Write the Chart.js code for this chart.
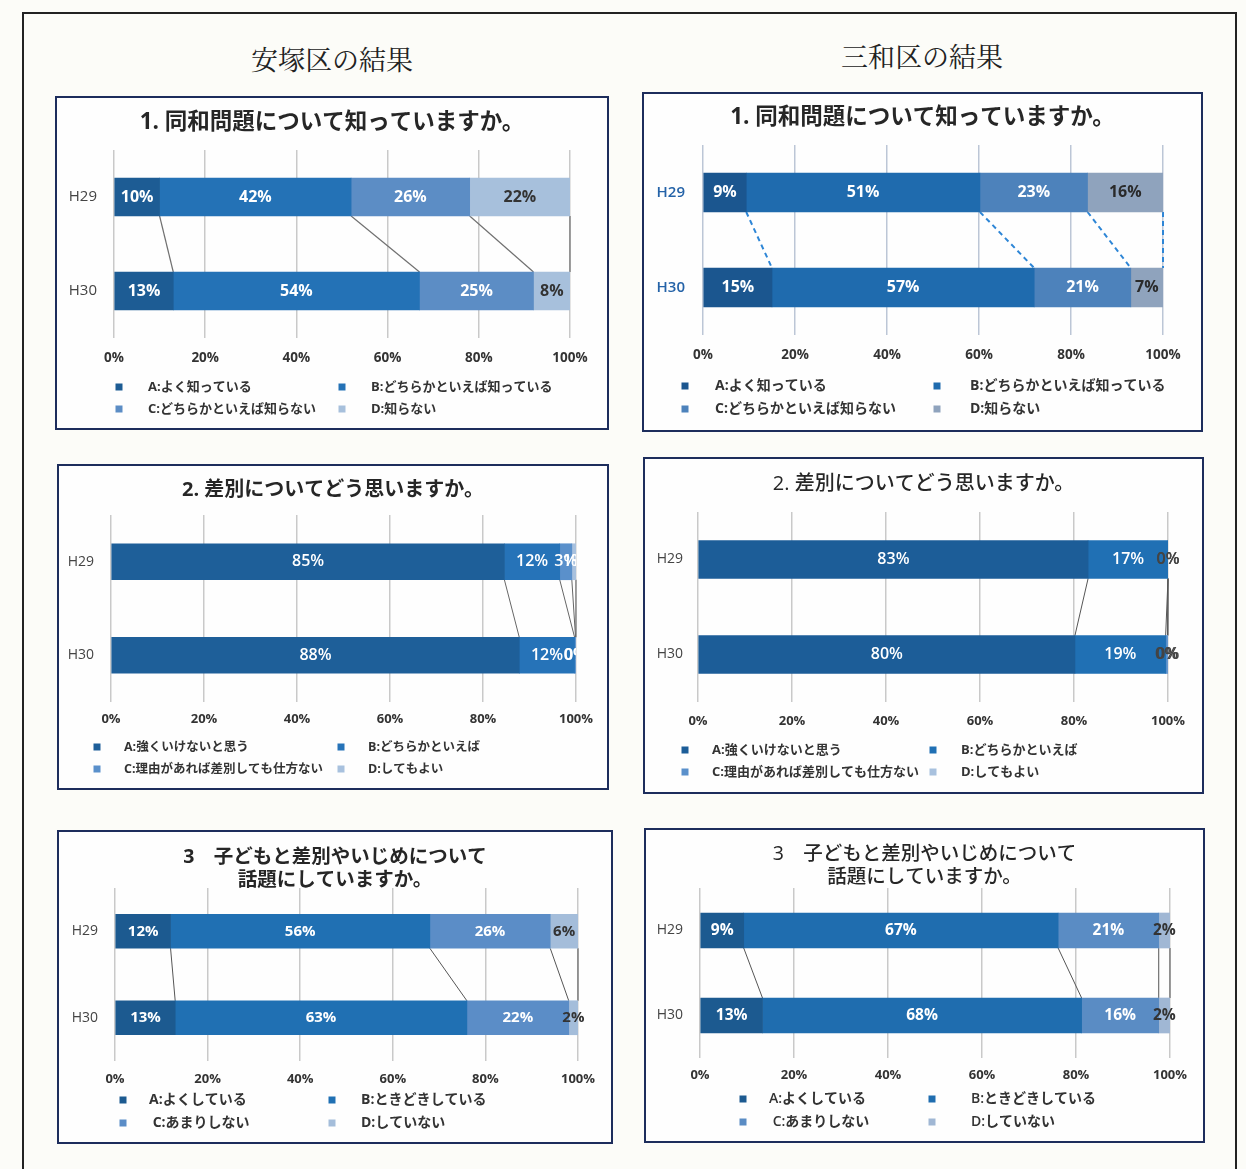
<!DOCTYPE html>
<html lang="ja">
<head>
<meta charset="UTF-8">
<title>安塚区・三和区の結果</title>
<script src="https://cdn.jsdelivr.net/npm/chart.js@4.4.1/dist/chart.umd.min.js"></script>
<style>
  body { margin: 0; background: #fcfcf8; }
  #page { position: relative; width: 1246px; height: 1169px; overflow: hidden; }
  .frame { position: absolute; left: 22px; top: 12px; width: 1215px; height: 1200px; border: 2px solid #222; box-sizing: border-box; }
  .heading { position: absolute; transform: translate(-50%, -50%); white-space: nowrap;
             font-family: "Noto Serif CJK JP", "Noto Sans CJK JP", serif; font-size: 27px; color: #222; }
  .panel { position: absolute; box-sizing: border-box; border: 2px solid #1d2d5c; background: #fefefe; }
  .panel canvas { position: absolute; left: 0; top: 0; }
</style>
</head>
<body>
<div id="page">
  <div class="frame"></div>
  <div class="heading" style="left:332px; top:58px;">安塚区の結果</div>
  <div class="heading" style="left:922px; top:55px;">三和区の結果</div>
</div>

<script>
  const FONT = '"Open Sans", "Noto Sans CJK JP", sans-serif';

  // 共通
  const years = ['H29', 'H30'];
  const tickValues = [0, 20, 40, 60, 80, 100];

  // 設問と回答
  const q1Title = ['1. 同和問題について知っていますか。'];
  const q1Legend = ['A:よく知っている', 'B:どちらかといえば知っている', 'C:どちらかといえば知らない', 'D:知らない'];
  const q2Title = ['2. 差別についてどう思いますか。'];
  const q2Legend = ['A:強くいけないと思う', 'B:どちらかといえば', 'C:理由があれば差別しても仕方ない', 'D:してもよい'];
  const q3Title = ['3　子どもと差別やいじめについて', '話題にしていますか。'];
  const q3Legend = ['A:よくしている', 'B:ときどきしている', ' C:あまりしない', 'D:していない'];

  // 回答割合 (%)  A, B, C, D
  const yasuzukaQ1H29 = [10, 42, 26, 22];
  const yasuzukaQ1H30 = [13, 54, 25, 8];
  const sanwaQ1H29 = [9.4, 50.8, 23.4, 16.4];
  const sanwaQ1H30 = [15, 57, 21, 7];

  const yasuzukaQ2H29 = [84.6, 11.9, 2.6, 0.9];
  const yasuzukaQ2H30 = [87.8, 11.9, 0.2, 0.1];
  const sanwaQ2H29 = [83, 17, 0, 0];
  const sanwaQ2H30 = [80.2, 19.3, 0.4, 0.1];

  const yasuzukaQ3H29 = [12, 56, 26, 6];
  const yasuzukaQ3H30 = [13, 63, 22, 2];
  const sanwaQ3H29 = [9.3, 66.9, 21.4, 2.4];
  const sanwaQ3H30 = [13.3, 67.9, 16.4, 2.4];

  // パネルの配置とスタイル
  const panels = [
    { box: [55, 96, 554, 334], x0: 114, x100: 570, gTop: 150, gBottom: 338, barH: 38,
      title: q1Title, titleY: 123, titleSize: 22.5, titleWeight: 'bold',
      rows: [yasuzukaQ1H29, yasuzukaQ1H30], legend: q1Legend,
      colors: ['#1d5c94', '#2472b6', '#5c8dc5', '#a7c0dc'],
      labelColors: ['#fff', '#fff', '#fff', '#333'], labelSize: 16, labelWeight: 'bold',
      yLabelRight: 97, yLabelSize: 15, yLabelColor: '#444', yLabelWeight: 'normal',
      tickY: 358, tickSize: 13.5, gridColor: '#c9c9c9',
      legendRows: [387, 409], legendBoxX: [119, 342], legendTextX: [148, 371], legendSize: 13, legendWeight: 'bold',
      lineColor: '#707070', lineWidth: 1.2, lineDash: [], clipLabels: false },

    { box: [642, 92, 561, 340], x0: 703, x100: 1163, gTop: 145, gBottom: 335, barH: 39,
      title: q1Title, titleY: 118, titleSize: 22.5, titleWeight: 'bold',
      rows: [sanwaQ1H29, sanwaQ1H30], legend: q1Legend,
      colors: ['#1b568f', '#1f6bae', '#4d82bb', '#8fa3bd'],
      labelColors: ['#fff', '#fff', '#fff', '#2a2a2a'], labelSize: 16, labelWeight: 'bold',
      yLabelRight: 685, yLabelSize: 15, yLabelColor: '#2563a8', yLabelWeight: '600',
      tickY: 355, tickSize: 13.5, gridColor: '#bcc6d6',
      legendRows: [386, 409], legendBoxX: [685, 937], legendTextX: [715, 970], legendSize: 14, legendWeight: 'bold',
      lineColor: '#2e86d6', lineWidth: 2, lineDash: [5, 4], clipLabels: false },

    { box: [57, 464, 552, 326], x0: 111, x100: 576, gTop: 515, gBottom: 702, barH: 36,
      title: q2Title, titleY: 490, titleSize: 20, titleWeight: 'bold',
      rows: [yasuzukaQ2H29, yasuzukaQ2H30], legend: q2Legend,
      colors: ['#1e5f99', '#2673b8', '#5a90cb', '#a8c1de'],
      labelColors: ['#fff', '#fff', '#fff', '#fff'], labelSize: 16, labelWeight: '600',
      yLabelRight: 94, yLabelSize: 14, yLabelColor: '#444', yLabelWeight: 'normal',
      tickY: 719, tickSize: 13, gridColor: '#c9c9c9',
      legendRows: [747, 769], legendBoxX: [97, 341], legendTextX: [124, 368], legendSize: 12.5, legendWeight: 'bold',
      lineColor: '#666', lineWidth: 1, lineDash: [], clipLabels: true },

    { box: [643, 457, 561, 337], x0: 698, x100: 1168, gTop: 512, gBottom: 702, barH: 38,
      title: q2Title, titleY: 484, titleSize: 20, titleWeight: '500',
      rows: [sanwaQ2H29, sanwaQ2H30], legend: q2Legend,
      colors: ['#1c5d98', '#2070b4', '#5a90cb', '#a8c1de'],
      labelColors: ['#fff', '#fff', '#444', '#444'], labelSize: 16, labelWeight: '600',
      yLabelRight: 683, yLabelSize: 14, yLabelColor: '#444', yLabelWeight: 'normal',
      tickY: 721, tickSize: 13, gridColor: '#c9c9c9',
      legendRows: [750, 772], legendBoxX: [685, 933], legendTextX: [712, 961], legendSize: 13, legendWeight: 'bold',
      lineColor: '#555', lineWidth: 1, lineDash: [], clipLabels: false },

    { box: [57, 830, 556, 314], x0: 115, x100: 578, gTop: 888, gBottom: 1061, barH: 34,
      title: q3Title, titleY: 857, titleSize: 19.5, titleWeight: 'bold',
      rows: [yasuzukaQ3H29, yasuzukaQ3H30], legend: q3Legend,
      colors: ['#1c5a90', '#2070b3', '#5b8dc7', '#a4bdda'],
      labelColors: ['#fff', '#fff', '#fff', '#333'], labelSize: 15, labelWeight: 'bold',
      yLabelRight: 98, yLabelSize: 14, yLabelColor: '#444', yLabelWeight: 'normal',
      tickY: 1079, tickSize: 13, gridColor: '#c9c9c9',
      legendRows: [1100, 1123], legendBoxX: [123, 332], legendTextX: [149, 361], legendSize: 14, legendWeight: 'bold',
      lineColor: '#555', lineWidth: 1, lineDash: [], clipLabels: false },

    { box: [644, 828, 561, 315], x0: 700, x100: 1170, gTop: 888, gBottom: 1058, barH: 35,
      title: q3Title, titleY: 854, titleSize: 19.5, titleWeight: '500',
      rows: [sanwaQ3H29, sanwaQ3H30], legend: q3Legend,
      colors: ['#1c5a90', '#1f6daf', '#5a8cc4', '#a0b7d4'],
      labelColors: ['#fff', '#fff', '#fff', '#333'], labelSize: 15.5, labelWeight: 'bold',
      yLabelRight: 683, yLabelSize: 14, yLabelColor: '#444', yLabelWeight: 'normal',
      tickY: 1075, tickSize: 13, gridColor: '#c9c9c9',
      legendRows: [1099, 1122], legendBoxX: [743, 932], legendTextX: [769, 971], legendSize: 14, legendWeight: '600',
      lineColor: '#555', lineWidth: 1, lineDash: [], clipLabels: false }
  ];

  // 棒の中の数値
  const barLabels = {
    id: 'barLabels',
    afterDatasetsDraw(chart, args, o) {
      const ctx = chart.ctx, area = chart.chartArea;
      ctx.save();
      if (o.clip) {
        ctx.beginPath();
        ctx.rect(area.left, 0, area.right - area.left, chart.height);
        ctx.clip();
      }
      ctx.font = `${o.weight} ${o.size}px ${FONT}`;
      ctx.textAlign = 'center';
      ctx.textBaseline = 'middle';
      chart.data.datasets.forEach((ds, i) => {
        chart.getDatasetMeta(i).data.forEach((bar, j) => {
          const b = bar.getProps(['x', 'y', 'base'], true);
          ctx.fillStyle = o.colors[i];
          ctx.fillText(Math.round(ds.shown[j]) + '%', (b.x + b.base) / 2, b.y);
        });
      });
      ctx.restore();
    }
  };

  // 区分線
  const seriesLines = {
    id: 'seriesLines',
    beforeDatasetsDraw(chart, args, o) {
      const ctx = chart.ctx;
      ctx.save();
      ctx.strokeStyle = o.color;
      ctx.lineWidth = o.width;
      ctx.setLineDash(o.dash);
      chart.data.datasets.forEach((ds, i) => {
        const els = chart.getDatasetMeta(i).data;
        const a = els[0].getProps(['x', 'y', 'height'], true);
        const b = els[1].getProps(['x', 'y', 'height'], true);
        ctx.beginPath();
        ctx.moveTo(a.x, a.y + a.height / 2);
        ctx.lineTo(b.x, b.y - b.height / 2);
        ctx.stroke();
      });
      ctx.restore();
    }
  };

  // 2列の凡例
  const gridLegend = {
    id: 'gridLegend',
    afterDraw(chart, args, o) {
      const ctx = chart.ctx;
      ctx.save();
      ctx.font = `${o.weight} ${o.size}px ${FONT}`;
      ctx.textBaseline = 'middle';
      ctx.textAlign = 'left';
      chart.data.datasets.forEach((ds, i) => {
        const col = i % 2, row = Math.floor(i / 2);
        const y = o.rows[row];
        ctx.fillStyle = ds.backgroundColor;
        ctx.fillRect(o.boxX[col] - 3.5, y - 3.5, 7, 7);
        ctx.fillStyle = '#333';
        ctx.fillText(ds.label, o.textX[col], y);
      });
      ctx.restore();
    }
  };

  const page = document.getElementById('page');

  panels.forEach(p => {
    const div = document.createElement('div');
    div.className = 'panel';
    div.style.left = p.box[0] + 'px';
    div.style.top = p.box[1] + 'px';
    div.style.width = p.box[2] + 'px';
    div.style.height = p.box[3] + 'px';
    const cv = document.createElement('canvas');
    const W = p.box[2] - 4, H = p.box[3] - 4;
    cv.width = W; cv.height = H;
    cv.style.width = W + 'px'; cv.style.height = H + 'px';
    div.appendChild(cv);
    page.appendChild(div);

    const inL = p.box[0] + 2, inT = p.box[1] + 2;
    const leftW = p.x0 - inL;
    const rightW = inL + W - p.x100;
    const lh = p.titleSize * 1.2;
    const tTop = p.titleY - inT - lh / 2;
    const tBottom = (p.gTop - inT) - tTop - p.title.length * lh;
    const xH = inT + H - p.gBottom;
    const tickPad = p.tickY - p.gBottom - 0.6 * p.tickSize;

    // 100%積み上げ
    const totals = p.rows.map(r => r.reduce((s, v) => s + v, 0));
    const datasets = p.legend.map((name, i) => ({
      label: name,
      data: p.rows.map((r, j) => r[i] / totals[j] * 100),
      shown: p.rows.map(r => r[i]),
      backgroundColor: p.colors[i],
      borderWidth: 0,
      barThickness: p.barH
    }));

    new Chart(cv, {
      type: 'bar',
      data: { labels: years, datasets: datasets },
      plugins: [seriesLines, barLabels, gridLegend],
      options: {
        indexAxis: 'y',
        responsive: false,
        animation: false,
        events: [],
        layout: { padding: 0 },
        scales: {
          x: {
            stacked: true, min: 0, max: 100,
            afterBuildTicks: s => { s.ticks = tickValues.map(v => ({ value: v })); },
            afterFit: s => { s.height = xH; },
            grid: { color: p.gridColor, lineWidth: 1.5, drawTicks: false },
            border: { display: false },
            ticks: {
              padding: tickPad, color: '#333',
              font: { family: FONT, size: p.tickSize, weight: 'bold' },
              callback: v => v + '%'
            }
          },
          y: {
            stacked: true,
            afterFit: s => { s.width = leftW; },
            grid: { display: false, drawTicks: false },
            border: { display: false },
            ticks: {
              padding: p.x0 - p.yLabelRight, color: p.yLabelColor,
              font: { family: FONT, size: p.yLabelSize, weight: p.yLabelWeight }
            }
          },
          // 右側の余白を確保するだけの軸
          yRight: {
            type: 'linear', axis: 'y', position: 'right',
            afterFit: s => { s.width = rightW; },
            grid: { display: false, drawTicks: false },
            border: { display: false },
            ticks: { display: false }
          }
        },
        plugins: {
          legend: { display: false },
          tooltip: { enabled: false },
          title: {
            display: true, text: p.title, color: '#262626',
            font: { family: FONT, size: p.titleSize, weight: p.titleWeight, lineHeight: 1.2 },
            padding: { top: tTop, bottom: tBottom }
          },
          barLabels: { colors: p.labelColors, size: p.labelSize, weight: p.labelWeight, clip: p.clipLabels },
          seriesLines: { color: p.lineColor, width: p.lineWidth, dash: p.lineDash },
          gridLegend: {
            rows: p.legendRows.map(y => y - inT),
            boxX: p.legendBoxX.map(x => x - inL),
            textX: p.legendTextX.map(x => x - inL),
            size: p.legendSize, weight: p.legendWeight
          }
        }
      }
    });
  });
</script>
</body>
</html>
